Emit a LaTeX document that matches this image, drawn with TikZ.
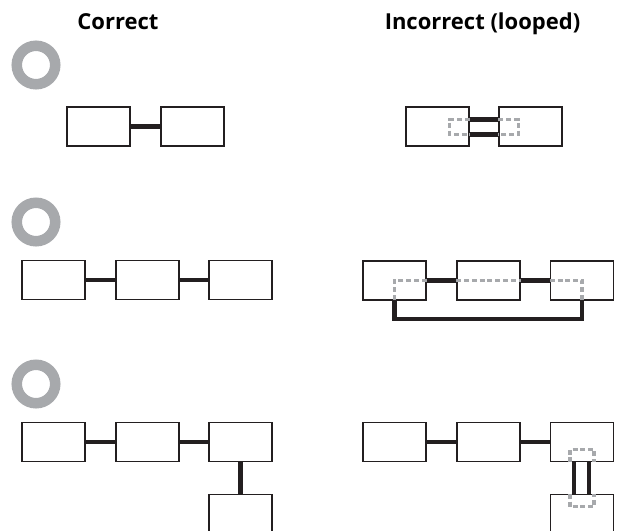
\documentclass[tikz,border=0pt]{standalone}
\usepackage{fontspec}
\setmainfont{Open Sans}
\usetikzlibrary{calc}
\definecolor{ringgray}{HTML}{A7A9AC}
\definecolor{ink}{HTML}{231F20}
\tikzset{
  unit/.style={rectangle, draw=ink, line width=1.6pt, minimum width=63pt, minimum height=39pt, inner sep=0pt},
  link/.style={draw=ink, line width=4.2pt},
  ghost/.style={draw=ringgray, line width=3.2pt, dash pattern=on 5pt off 2.8pt},
  heading/.style={font=\bfseries\fontsize{22}{26}\selectfont, anchor=base}
}
\newcommand{\ringmark}[2] {\node at (#1) (#2) [circle, draw=ringgray, line width=10.5pt, minimum size=38.5pt, inner sep=0pt] {};}
\newcommand{\unitbox}[2] {\node at (#1) (#2) [unit] {};}
\newcommand{\unitlink}[2] {\draw [link] (#1) -- (#2);}
\newcommand{\twinlink}[3] {\draw [link] ([#3=7pt]#1) -- ([#3=7pt]#2); \draw [link] ([#3=-8pt]#1) -- ([#3=-8pt]#2);}

\begin{document}
\begin{tikzpicture}[x=1pt, y=-1pt]
\clip (0,0) rectangle (621,530);

\node [heading] (okhead) at (118,29) {Correct};
\node [heading] (badhead) at (482.5,29) {Incorrect (looped)};

\ringmark {36,65}{ringa}
\ringmark {36,222}{ringb}
\ringmark {36,384}{ringc}

\unitbox {98.5,126.5}{oka1}
\unitbox {192.5,126.5}{oka2}
\unitlink {oka1.east}{oka2.west}

\unitbox {437.5,126.5}{bada1}
\unitbox {530.5,126.5}{bada2}
\twinlink {bada1.east}{bada2.west}{yshift}
\draw [ghost] ([yshift=7pt]bada1.east) -- ([yshift=7pt,xshift=-20pt]bada1.east) -- ([yshift=-8pt,xshift=-20pt]bada1.east) -- ([yshift=-8pt]bada1.east);
\draw [ghost] ([yshift=7pt]bada2.west) -- ([yshift=7pt,xshift=20pt]bada2.west) -- ([yshift=-8pt,xshift=20pt]bada2.west) -- ([yshift=-8pt]bada2.west);

\unitbox {53.5,280}{okb1}
\unitbox {147.5,280}{okb2}
\unitbox {240.5,280}{okb3}
\unitlink {okb1.east}{okb2.west}
\unitlink {okb2.east}{okb3.west}

\unitbox {394.5,280.5}{badb1}
\unitbox {488.5,280.5}{badb2}
\unitbox {582,280.5}{badb3}
\coordinate (loopl) at (394.5,319);
\coordinate (loopr) at (582,319);
\unitlink {badb1.east}{badb2.west}
\unitlink {badb2.east}{badb3.west}
\draw [link] (badb1.south) -- (loopl) -- (loopr) -- (badb3.south);
\draw [ghost] (badb1.east) -- (badb1.center) -- (badb1.south);
\draw [ghost] (badb2.west) -- (badb2.east);
\draw [ghost] (badb3.west) -- (badb3.center) -- (badb3.south);

\unitbox {53.5,442}{okc1}
\unitbox {147.5,442}{okc2}
\unitbox {240.5,442}{okc3}
\unitbox {240.5,514}{okc4}
\unitlink {okc1.east}{okc2.west}
\unitlink {okc2.east}{okc3.west}
\unitlink {okc3.south}{okc4.north}

\unitbox {394.5,442}{badc1}
\unitbox {488.5,442}{badc2}
\unitbox {582,442}{badc3}
\unitbox {582,514}{badc4}
\unitlink {badc1.east}{badc2.west}
\unitlink {badc2.east}{badc3.west}
\twinlink {badc3.south}{badc4.north}{xshift}
\draw [ghost] ([xshift=-12pt]badc3.south) -- ([xshift=-12pt,yshift=13pt]badc3.south) -- ([xshift=12pt,yshift=13pt]badc3.south) -- ([xshift=12pt]badc3.south);
\draw [ghost] ([xshift=-12pt]badc4.north) -- ([xshift=-12pt,yshift=-13pt]badc4.north) -- ([xshift=12pt,yshift=-13pt]badc4.north) -- ([xshift=12pt]badc4.north);
\end{tikzpicture}
\end{document}
